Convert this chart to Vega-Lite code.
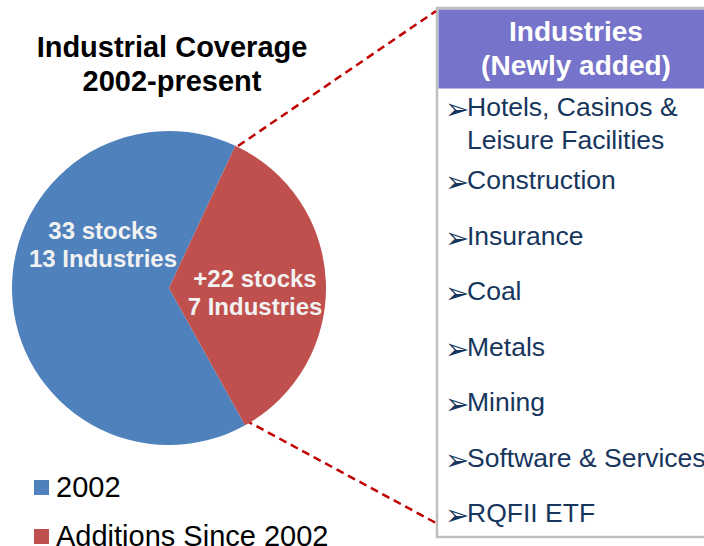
{
  "$schema": "https://vega.github.io/schema/vega-lite/v6.json",
  "width": 704,
  "height": 546,
  "padding": 0,
  "autosize": {"type": "none"},
  "background": "white",
  "config": {"view": {"stroke": null}, "font": "Liberation Sans"},
  "data": {"values": [{}]},
  "datasets": {
    "pie": [
      {"group": "2002", "stocks": 33, "industries": 13, "label": ["33 stocks", "13 Industries"]},
      {"group": "Additions Since 2002", "stocks": 22, "industries": 7, "label": ["+22 stocks", "7 Industries"]}
    ],
    "list": [
      {"rank": 1, "industry": ["Hotels, Casinos &", "Leisure Facilities"]},
      {"rank": 2, "industry": "Construction"},
      {"rank": 3, "industry": "Insurance"},
      {"rank": 4, "industry": "Coal"},
      {"rank": 5, "industry": "Metals"},
      {"rank": 6, "industry": "Mining"},
      {"rank": 7, "industry": "Software & Services"},
      {"rank": 8, "industry": "RQFII ETF"}
    ]
  },
  "resolve": {"scale": {"y": "independent"}},
  "layer": [
    {
      "layer": [
        {
          "mark": {"type": "rect", "fill": "white", "stroke": "#BFBFBF", "strokeWidth": 2.5},
          "encoding": {
            "x": {"datum": 437, "type": "quantitative", "scale": {"domain": [0, 704], "nice": false, "zero": false}, "axis": null},
            "x2": {"datum": 706},
            "y": {"datum": 8, "type": "quantitative", "scale": {"domain": [0, 546], "nice": false, "zero": false, "reverse": true}, "axis": null},
            "y2": {"datum": 537}
          }
        },
        {
          "mark": {"type": "rect", "fill": "#7673CA"},
          "encoding": {
            "x": {"datum": 438.5, "type": "quantitative", "scale": {"domain": [0, 704], "nice": false, "zero": false}, "axis": null},
            "x2": {"datum": 706},
            "y": {"datum": 9.5, "type": "quantitative", "axis": null},
            "y2": {"datum": 88.5}
          }
        },
        {
          "mark": {"type": "text", "text": ["Industries", "(Newly added)"], "align": "center", "baseline": "alphabetic", "fontSize": 28, "fontWeight": "bold", "color": "#FFFFFF", "lineHeight": 34},
          "encoding": {
            "x": {"datum": 576, "type": "quantitative", "axis": null},
            "y": {"datum": 41, "type": "quantitative", "axis": null}
          }
        },
        {
          "mark": {"type": "text", "text": ["Industrial Coverage", "2002-present"], "align": "center", "baseline": "alphabetic", "fontSize": 29, "fontWeight": "bold", "color": "#000000", "lineHeight": 34},
          "encoding": {
            "x": {"datum": 172, "type": "quantitative", "axis": null},
            "y": {"datum": 57, "type": "quantitative", "axis": null}
          }
        },
        {
          "mark": {"type": "rule", "color": "#C00000", "strokeWidth": 2.5, "strokeDash": [8, 5]},
          "encoding": {
            "x": {"datum": 238, "type": "quantitative", "axis": null},
            "y": {"datum": 146, "type": "quantitative", "axis": null},
            "x2": {"datum": 436},
            "y2": {"datum": 11}
          }
        },
        {
          "mark": {"type": "rule", "color": "#C00000", "strokeWidth": 2.5, "strokeDash": [8, 5]},
          "encoding": {
            "x": {"datum": 245, "type": "quantitative", "axis": null},
            "y": {"datum": 420, "type": "quantitative", "axis": null},
            "x2": {"datum": 436},
            "y2": {"datum": 523}
          }
        },
        {
          "data": {"name": "pie"},
          "mark": {"type": "arc", "radius": 157},
          "encoding": {
            "theta": {"field": "industries", "type": "quantitative", "scale": {"range": [2.6354, 8.9186]}},
            "color": {
              "field": "group", "type": "nominal",
              "scale": {"domain": ["2002", "Additions Since 2002"], "range": ["#4F81BD", "#C0504D"]},
              "legend": {"orient": "none", "legendX": 27, "legendY": 473, "title": null, "symbolType": "square", "symbolSize": 225, "symbolStrokeWidth": 0, "labelFontSize": 29, "labelFont": "Liberation Sans", "labelColor": "#000000", "labelLimit": 500, "rowPadding": 19, "labelOffset": 0, "padding": 0}
            },
            "x": {"datum": 169, "type": "quantitative", "axis": null},
            "y": {"datum": 288, "type": "quantitative", "axis": null}
          }
        },
        {
          "data": {"name": "pie"},
          "transform": [{"filter": "datum.group === '2002'"}],
          "mark": {"type": "text", "align": "center", "baseline": "alphabetic", "fontSize": 24, "fontWeight": "bold", "color": "#F2F2F2", "lineHeight": 28},
          "encoding": {
            "text": {"field": "label"},
            "x": {"datum": 103, "type": "quantitative", "axis": null},
            "y": {"datum": 239, "type": "quantitative", "axis": null}
          }
        },
        {
          "data": {"name": "pie"},
          "transform": [{"filter": "datum.group !== '2002'"}],
          "mark": {"type": "text", "align": "center", "baseline": "alphabetic", "fontSize": 24, "fontWeight": "bold", "color": "#F2F2F2", "lineHeight": 28},
          "encoding": {
            "text": {"field": "label"},
            "x": {"datum": 255, "type": "quantitative", "axis": null},
            "y": {"datum": 287, "type": "quantitative", "axis": null}
          }
        }
      ]
    },
    {
      "data": {"name": "list"},
      "encoding": {
        "y": {"field": "rank", "type": "quantitative", "scale": {"domain": [1, 8], "range": [126, 514], "nice": false, "zero": false}, "axis": null}
      },
      "layer": [
        {
          "transform": [{"filter": "datum.rank > 1"}],
          "mark": {"type": "text", "align": "left", "baseline": "middle", "fontSize": 26.5, "color": "#17365D", "lineHeight": 33},
          "encoding": {
            "text": {"field": "industry"},
            "x": {"datum": 467, "type": "quantitative", "axis": null}
          }
        },
        {
          "transform": [{"filter": "datum.rank === 1"}],
          "mark": {"type": "text", "align": "left", "baseline": "middle", "fontSize": 26.5, "color": "#17365D", "lineHeight": 33, "dy": -18},
          "encoding": {
            "text": {"field": "industry"},
            "x": {"datum": 467, "type": "quantitative", "axis": null}
          }
        },
        {
          "transform": [{"filter": "datum.rank > 1"}],
          "mark": {"type": "text", "text": "➢", "align": "left", "baseline": "middle", "fontSize": 29, "font": "DejaVu Sans", "color": "#17365D", "dy": 2},
          "encoding": {
            "x": {"datum": 445, "type": "quantitative", "axis": null}
          }
        },
        {
          "transform": [{"filter": "datum.rank === 1"}],
          "mark": {"type": "text", "text": "➢", "align": "left", "baseline": "middle", "fontSize": 29, "font": "DejaVu Sans", "color": "#17365D", "dy": -16},
          "encoding": {
            "x": {"datum": 445, "type": "quantitative", "axis": null}
          }
        }
      ]
    }
  ]
}
